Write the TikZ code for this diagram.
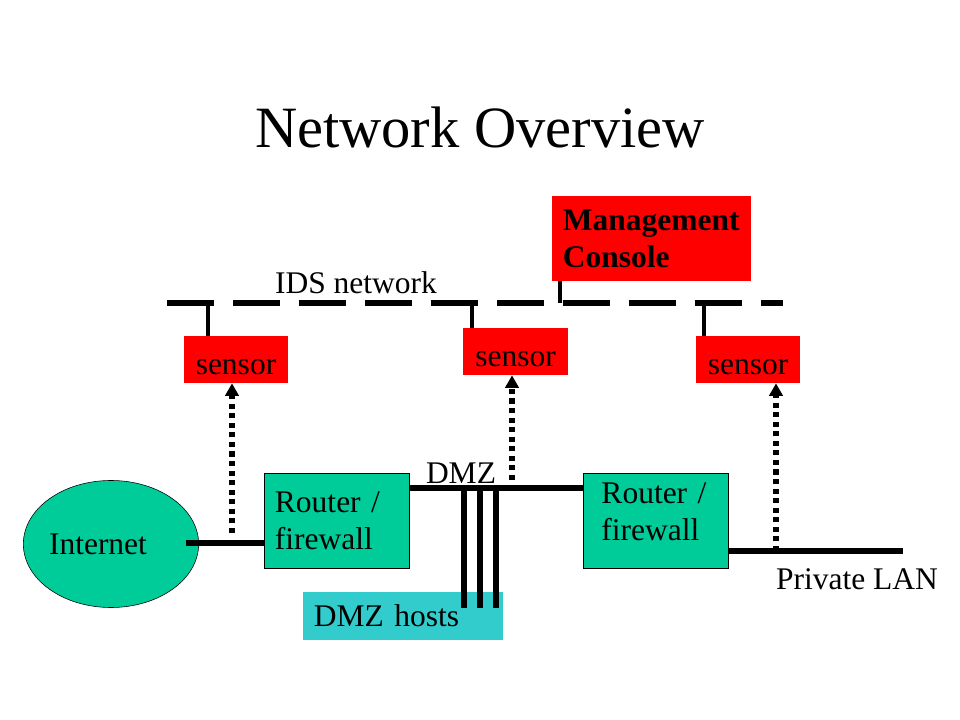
\documentclass[tikz,border=0pt]{standalone}
\usepackage{fontspec}
\setmainfont{Liberation Serif}
\usetikzlibrary{arrows.meta,shapes.geometric}

\definecolor{fwgreen}{RGB}{0,204,153}
\definecolor{hostcyan}{RGB}{51,204,204}

\tikzset{
  txt/.style={inner sep=0pt, font=\fontsize{22.4}{26.3}\selectfont},
  sensorbox/.style={txt, rectangle, fill=red, minimum width=2.6cm, minimum height=1.175cm,
    text height=0.75cm},
  fwbox/.style={txt, rectangle, draw, thin, fill=fwgreen, minimum height=2.375cm,
    text width=3.075cm, inner xsep=0.275cm, align=left},
  link/.style={line width=4.3pt},
  tap/.style={line width=2.8pt},
  feed/.style={line width=4.3pt, dash pattern=on 3.6pt off 3.2pt,
    -{Triangle[width=9.5pt,length=9pt]}},
}

\begin{document}
\begin{tikzpicture}[x=0.025cm, y=-0.025cm]
  \useasboundingbox (0,0) rectangle (960,720);

  \node[inner sep=0pt, font=\fontsize{41.6}{50}\selectfont] (title) at (480,127) {Network Overview};

  % IDS network
  \coordinate (idsw) at (167,303);
  \coordinate (idse) at (783,303);
  \draw[link, dash pattern=on 33.4pt off 13.5pt] (idsw) -- (idse);
  \node[txt] (idslabel) at (356,283) {IDS network};

  \node[txt, rectangle, fill=red, font=\fontsize{22.4}{26.3}\selectfont\bfseries,
    minimum height=2.125cm, text width=4.425cm, inner xsep=0.275cm, align=left]
    (mgmt) at (651.5,238.5) {Management\\Console};
  \coordinate (t0) at (560,303);
  \draw[tap] (t0) -- (t0 |- mgmt.south);

  \node[sensorbox] (s1) at (236,359.5) {sensor};
  \node[sensorbox] (s2) at (515.5,351.5) {sensor};
  \node[sensorbox] (s3) at (748,359.5) {sensor};

  \coordinate (t1) at (208,303);
  \coordinate (t2) at (472,303);
  \coordinate (t3) at (704,303);
  \draw[tap] (t1) -- (t1 |- s1.north);
  \draw[tap] (t2) -- (t2 |- s2.north);
  \draw[tap] (t3) -- (t3 |- s3.north);

  % outside, DMZ and LAN
  \node[txt, ellipse, draw, thin, fill=fwgreen, minimum width=4.35cm, minimum height=3.175cm]
    (inet) at (111,544) {Internet\kern0.65cm};
  \node[fwbox] (r1) at (336.5,520.5) {Router /\\firewall};
  \node[fwbox, inner xsep=0.45cm, text width=2.725cm, text depth=1.35cm]
    (r2) at (656,520.5) {Router /\\firewall};
  \node[txt, rectangle, fill=hostcyan, minimum height=1.2cm, text width=4.45cm,
    inner xsep=0.275cm, align=left] (hosts) at (403,616) {DMZ hosts};

  \coordinate (wan) at (186,543);
  \coordinate (dmzbus) at (496,488);
  \coordinate (lan) at (903,551);
  \draw[link] (wan) -- (wan -| r1.west);
  \draw[link] (dmzbus -| r1.east) -- (dmzbus -| r2.west);
  \draw[link] (lan -| r2.east) -- (lan);
  \foreach \x in {464,480,496}
    \draw[link] (\x,488) -- (\x,608);

  \node[txt] (dmzlabel) at (461,473) {DMZ};
  \node[txt] (lanlabel) at (857,579) {Private LAN};

  % sensor feeds
  \coordinate (f1) at (232,533);
  \coordinate (f2) at (512,480);
  \coordinate (f3) at (776,551);
  \draw[feed] (f1) -- (f1 |- s1.south);
  \draw[feed] (f2) -- (f2 |- s2.south);
  \draw[feed] (f3) -- (f3 |- s3.south);
\end{tikzpicture}
\end{document}
